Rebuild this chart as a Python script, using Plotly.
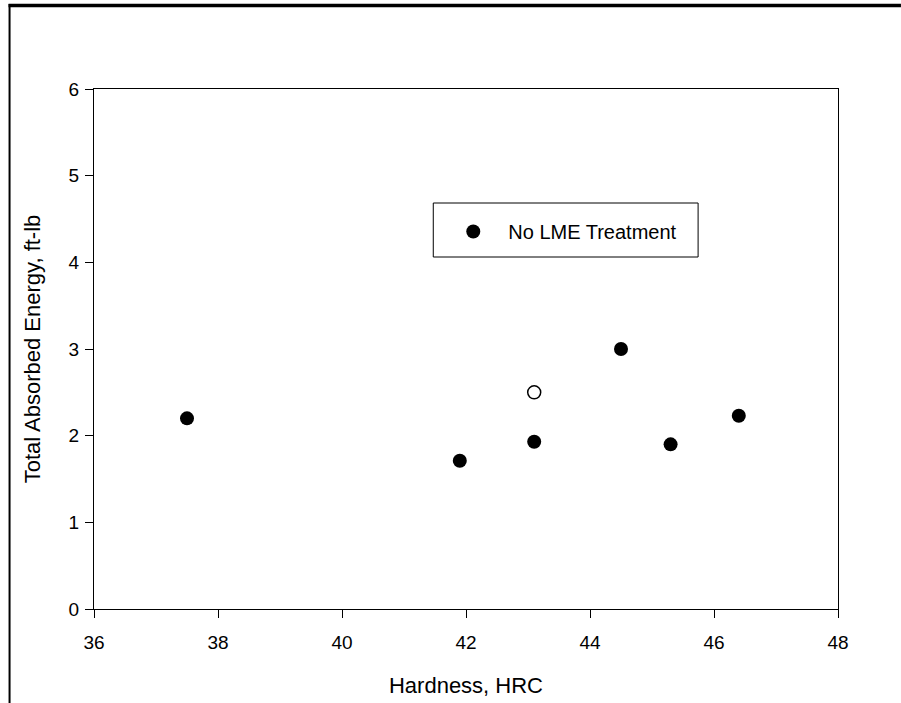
import plotly.graph_objects as go

# Data
hardness = [37.5, 41.9, 43.1, 44.5, 45.3, 46.4]
energy = [2.2, 1.71, 1.93, 3.0, 1.9, 2.23]
open_hardness = [43.1]
open_energy = [2.5]

x_ticks = [36, 38, 40, 42, 44, 46, 48]
y_ticks = [0, 1, 2, 3, 4, 5, 6]

W, H = 901, 703
L, R, T, B = 93.5, 63, 89, 94
pw, ph = W - L - R, H - T - B

def px(xp):
    return (xp - L) / pw

def py(yp):
    return (H - B - yp) / ph

font = "Arial, Liberation Sans, sans-serif"

fig = go.Figure()
fig.add_trace(go.Scatter(
    x=hardness, y=energy, mode="markers", name="No LME Treatment",
    marker=dict(symbol="circle", size=14, color="black"),
))
fig.add_trace(go.Scatter(
    x=open_hardness, y=open_energy, mode="markers", showlegend=False,
    marker=dict(symbol="circle-open", size=13, color="black", line=dict(width=1.5)),
))

axis_common = dict(
    showgrid=False, zeroline=False, showline=True, linecolor="black", linewidth=1,
    mirror=True, ticks="outside", ticklen=8, tickcolor="black", tickwidth=1,
    tickfont=dict(family=font, size=19, color="black"), automargin=False,
)

fig.update_layout(
    width=W, height=H,
    margin=dict(l=L, r=R, t=T, b=B, pad=0, autoexpand=False),
    paper_bgcolor="white", plot_bgcolor="white",
    font=dict(family=font, color="black"),
    xaxis=dict(range=[36, 48], tickvals=x_ticks, ticktext=[str(v) for v in x_ticks],
               ticklabelstandoff=8,
               title=dict(text="Hardness, HRC", font=dict(size=22), standoff=25),
               **axis_common),
    yaxis=dict(range=[0, 6], tickvals=y_ticks, ticktext=[str(v) for v in y_ticks],
               ticklabelstandoff=2,
               title=dict(text="Total Absorbed Energy, ft-lb", font=dict(size=22), standoff=21),
               **axis_common),
    legend=dict(
        x=px(438), y=py(212), xanchor="left", yanchor="top",
        bgcolor="rgba(0,0,0,0)", borderwidth=0,
        font=dict(family=font, size=20, color="black"),
        itemwidth=60,
    ),
    showlegend=True,
)

shapes = [
    # legend box
    dict(type="rect", xref="paper", yref="paper", x0=px(433), x1=px(698), y0=py(257), y1=py(203),
         line=dict(color="black", width=1)),
    # outer frame: top thick bar and left line
    dict(type="line", xref="paper", yref="paper", x0=px(8), x1=px(901), y0=py(5.5), y1=py(5.5),
         line=dict(color="black", width=3.5)),
    dict(type="line", xref="paper", yref="paper", x0=px(9), x1=px(9), y0=py(4), y1=py(703),
         line=dict(color="black", width=2)),
]
fig.update_layout(shapes=shapes)

fig.write_html("out.html")
